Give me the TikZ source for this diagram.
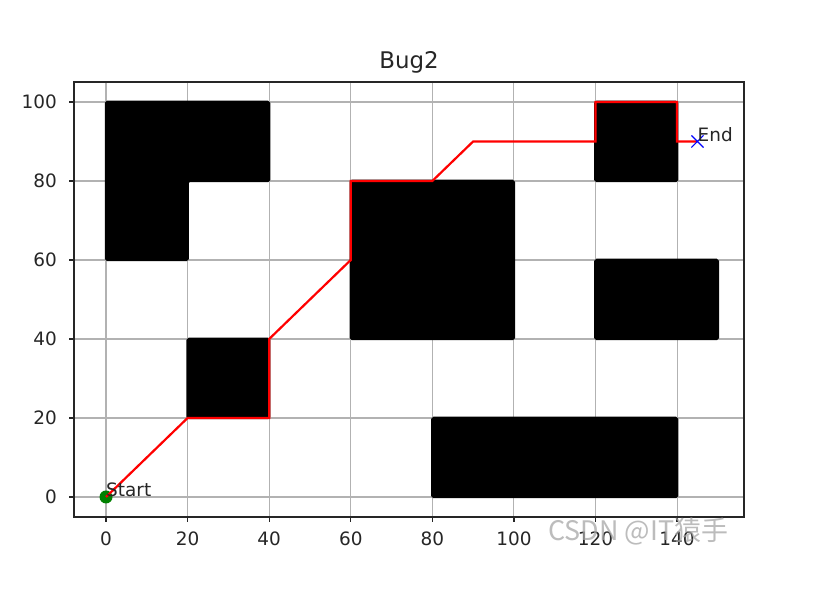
\documentclass[tikz,border=0pt]{standalone}
\usepackage{fontspec}
\setmainfont{DejaVu Sans}
\newfontfamily\cjk{Noto Sans CJK SC}
\usetikzlibrary{shapes.misc}

\begin{document}
\begin{tikzpicture}[
        x=4.079bp, y=3.95bp,
        obstacleBox/.style={fill=black, draw=black, line width=2.5bp, rounded corners=1.5bp},
        gridLine/.style={black!30, line width=1.1bp},
        axisFrame/.style={black!85, line width=1.2bp},
        tickLabel/.style={text=black!85, inner sep=0, font=\fontsize{18.5}{22}\selectfont},
        plotText/.style={text=black!85, inner sep=0, font=\fontsize{18.5}{22}\selectfont},
        bugLine/.style={red, line width=2.2bp},
        startDot/.style={circle, fill=green!50!black, inner sep=0, minimum size=13bp},
        goalMark/.style={cross out, draw=blue, line width=1.1bp, inner sep=0, minimum size=11bp}
    ]
    \useasboundingbox[fill=white] (-25.99,-24.30) rectangle (173.57,125.82);

    % grid
    \foreach \gx in {0,20,...,140} \draw[gridLine] (\gx,-5.06) -- (\gx,105.06);
    \foreach \gy in {0,20,...,100} \draw[gridLine] (-7.85,\gy) -- (156.4,\gy);

    % obstacles
    \draw[obstacleBox] (0,60) -- (20,60) -- (20,80) -- (40,80) -- (40,100) -- (0,100) -- cycle;
    \draw[obstacleBox] (20,20) rectangle (40,40);
    \draw[obstacleBox] (60,40) rectangle (100,80);
    \draw[obstacleBox] (120,80) rectangle (140,100);
    \draw[obstacleBox] (120,40) rectangle (150,60);
    \draw[obstacleBox] (80,0) rectangle (140,20);

    % axes
    \draw[axisFrame] (-7.85,-5.06) rectangle (156.4,105.06);
    \foreach \tx in {0,20,...,140} {
        \draw[axisFrame] (\tx,-5.06) -- ++(0,-5bp);
        \node[tickLabel, anchor=north, yshift=-15bp] (xtick\tx) at (\tx,-5.06) {\tx};
    }
    \foreach \ty in {0,20,...,100} {
        \draw[axisFrame] (-7.85,\ty) -- ++(-5bp,0);
        \node[tickLabel, anchor=east, xshift=-17bp] (ytick\ty) at (-7.85,\ty) {\ty};
    }
    \node[plotText, anchor=base, yshift=13bp, font=\fontsize{23}{27}\selectfont] (title) at (74.28,105.06) {Bug2};

    % bug2 route
    \node[startDot] (start) at (0,0) {};
    \coordinate (w1) at (20,20);
    \coordinate (w2) at (40,20);
    \coordinate (w3) at (40,40);
    \coordinate (w4) at (60,60);
    \coordinate (w5) at (60,80);
    \coordinate (w6) at (80,80);
    \coordinate (w7) at (90,90);
    \coordinate (w8) at (120,90);
    \coordinate (w9) at (120,100);
    \coordinate (w10) at (140,100);
    \coordinate (w11) at (140,90);
    \coordinate (goal) at (145,90);
    \draw[bugLine] (start.center) -- (w1) -- (w2) -- (w3) -- (w4) -- (w5) -- (w6)
        -- (w7) -- (w8) -- (w9) -- (w10) -- (w11) -- (goal);
    \node[goalMark] (goalX) at (goal) {};
    \node[plotText, anchor=base west] (startText) at (start.center) {Start};
    \node[plotText, anchor=base west] (goalText) at (goal) {End};

    \node[anchor=base west, inner sep=0, text=black!35, text opacity=0.75,
        font=\cjk\fontsize{27}{32}\selectfont] (mark) at (108.4,-10.89) {CSDN @IT猿手};
\end{tikzpicture}
\end{document}
